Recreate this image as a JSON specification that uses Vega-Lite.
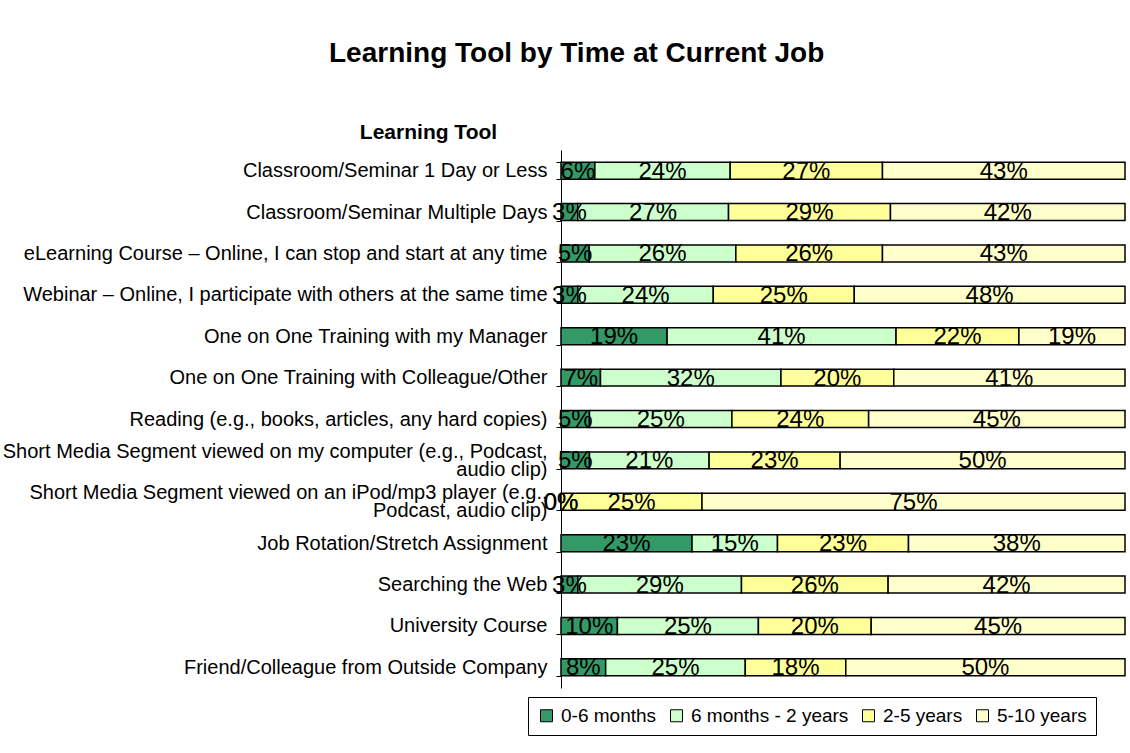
{
  "$schema": "https://vega.github.io/schema/vega-lite/v6.json",
  "width": 564,
  "height": 538,
  "autosize": {"type": "none"},
  "padding": {"left": 561, "top": 150, "right": 5, "bottom": 65},
  "background": "white",
  "config": {"font": "Liberation Sans", "view": {"stroke": null}},
  "title": {
    "text": "Learning Tool by Time at Current Job",
    "anchor": "start",
    "frame": "group",
    "dx": -232,
    "dy": 7,
    "fontSize": 28,
    "fontWeight": "bold",
    "color": "black",
    "font": "Liberation Sans",
    "offset": 60
  },
  "data": {
    "values": [
      {"tool": "Classroom/Seminar 1 Day or Less", "period": "0-6 months", "k": 0, "pct": 0.06},
      {"tool": "Classroom/Seminar 1 Day or Less", "period": "6 months - 2 years", "k": 1, "pct": 0.24},
      {"tool": "Classroom/Seminar 1 Day or Less", "period": "2-5 years", "k": 2, "pct": 0.27},
      {"tool": "Classroom/Seminar 1 Day or Less", "period": "5-10 years", "k": 3, "pct": 0.43},
      {"tool": "Classroom/Seminar Multiple Days", "period": "0-6 months", "k": 0, "pct": 0.03},
      {"tool": "Classroom/Seminar Multiple Days", "period": "6 months - 2 years", "k": 1, "pct": 0.27},
      {"tool": "Classroom/Seminar Multiple Days", "period": "2-5 years", "k": 2, "pct": 0.29},
      {"tool": "Classroom/Seminar Multiple Days", "period": "5-10 years", "k": 3, "pct": 0.42},
      {"tool": "eLearning Course – Online, I can stop and start at any time", "period": "0-6 months", "k": 0, "pct": 0.05},
      {"tool": "eLearning Course – Online, I can stop and start at any time", "period": "6 months - 2 years", "k": 1, "pct": 0.26},
      {"tool": "eLearning Course – Online, I can stop and start at any time", "period": "2-5 years", "k": 2, "pct": 0.26},
      {"tool": "eLearning Course – Online, I can stop and start at any time", "period": "5-10 years", "k": 3, "pct": 0.43},
      {"tool": "Webinar – Online, I participate with others at the same time", "period": "0-6 months", "k": 0, "pct": 0.03},
      {"tool": "Webinar – Online, I participate with others at the same time", "period": "6 months - 2 years", "k": 1, "pct": 0.24},
      {"tool": "Webinar – Online, I participate with others at the same time", "period": "2-5 years", "k": 2, "pct": 0.25},
      {"tool": "Webinar – Online, I participate with others at the same time", "period": "5-10 years", "k": 3, "pct": 0.48},
      {"tool": "One on One Training with my Manager", "period": "0-6 months", "k": 0, "pct": 0.19},
      {"tool": "One on One Training with my Manager", "period": "6 months - 2 years", "k": 1, "pct": 0.41},
      {"tool": "One on One Training with my Manager", "period": "2-5 years", "k": 2, "pct": 0.22},
      {"tool": "One on One Training with my Manager", "period": "5-10 years", "k": 3, "pct": 0.19},
      {"tool": "One on One Training with Colleague/Other", "period": "0-6 months", "k": 0, "pct": 0.07},
      {"tool": "One on One Training with Colleague/Other", "period": "6 months - 2 years", "k": 1, "pct": 0.32},
      {"tool": "One on One Training with Colleague/Other", "period": "2-5 years", "k": 2, "pct": 0.20},
      {"tool": "One on One Training with Colleague/Other", "period": "5-10 years", "k": 3, "pct": 0.41},
      {"tool": "Reading (e.g., books, articles, any hard copies)", "period": "0-6 months", "k": 0, "pct": 0.05},
      {"tool": "Reading (e.g., books, articles, any hard copies)", "period": "6 months - 2 years", "k": 1, "pct": 0.25},
      {"tool": "Reading (e.g., books, articles, any hard copies)", "period": "2-5 years", "k": 2, "pct": 0.24},
      {"tool": "Reading (e.g., books, articles, any hard copies)", "period": "5-10 years", "k": 3, "pct": 0.45},
      {"tool": "Short Media Segment viewed on my computer (e.g., Podcast, audio clip)", "period": "0-6 months", "k": 0, "pct": 0.05},
      {"tool": "Short Media Segment viewed on my computer (e.g., Podcast, audio clip)", "period": "6 months - 2 years", "k": 1, "pct": 0.21},
      {"tool": "Short Media Segment viewed on my computer (e.g., Podcast, audio clip)", "period": "2-5 years", "k": 2, "pct": 0.23},
      {"tool": "Short Media Segment viewed on my computer (e.g., Podcast, audio clip)", "period": "5-10 years", "k": 3, "pct": 0.50},
      {"tool": "Short Media Segment viewed on an iPod/mp3 player (e.g., Podcast, audio clip)", "period": "0-6 months", "k": 0, "pct": 0},
      {"tool": "Short Media Segment viewed on an iPod/mp3 player (e.g., Podcast, audio clip)", "period": "6 months - 2 years", "k": 1, "pct": 0},
      {"tool": "Short Media Segment viewed on an iPod/mp3 player (e.g., Podcast, audio clip)", "period": "2-5 years", "k": 2, "pct": 0.25},
      {"tool": "Short Media Segment viewed on an iPod/mp3 player (e.g., Podcast, audio clip)", "period": "5-10 years", "k": 3, "pct": 0.75},
      {"tool": "Job Rotation/Stretch Assignment", "period": "0-6 months", "k": 0, "pct": 0.23},
      {"tool": "Job Rotation/Stretch Assignment", "period": "6 months - 2 years", "k": 1, "pct": 0.15},
      {"tool": "Job Rotation/Stretch Assignment", "period": "2-5 years", "k": 2, "pct": 0.23},
      {"tool": "Job Rotation/Stretch Assignment", "period": "5-10 years", "k": 3, "pct": 0.38},
      {"tool": "Searching the Web", "period": "0-6 months", "k": 0, "pct": 0.03},
      {"tool": "Searching the Web", "period": "6 months - 2 years", "k": 1, "pct": 0.29},
      {"tool": "Searching the Web", "period": "2-5 years", "k": 2, "pct": 0.26},
      {"tool": "Searching the Web", "period": "5-10 years", "k": 3, "pct": 0.42},
      {"tool": "University Course", "period": "0-6 months", "k": 0, "pct": 0.10},
      {"tool": "University Course", "period": "6 months - 2 years", "k": 1, "pct": 0.25},
      {"tool": "University Course", "period": "2-5 years", "k": 2, "pct": 0.20},
      {"tool": "University Course", "period": "5-10 years", "k": 3, "pct": 0.45},
      {"tool": "Friend/Colleague from Outside Company", "period": "0-6 months", "k": 0, "pct": 0.08},
      {"tool": "Friend/Colleague from Outside Company", "period": "6 months - 2 years", "k": 1, "pct": 0.25},
      {"tool": "Friend/Colleague from Outside Company", "period": "2-5 years", "k": 2, "pct": 0.18},
      {"tool": "Friend/Colleague from Outside Company", "period": "5-10 years", "k": 3, "pct": 0.50}
    ]
  },
  "encoding": {
    "y": {
      "field": "tool",
      "type": "nominal",
      "sort": null,
      "scale": {"paddingInner": 0.59, "paddingOuter": 0.295},
      "axis": {
        "title": "Learning Tool",
        "titleAngle": 0,
        "titleAlign": "center",
        "titleBaseline": "alphabetic",
        "titleX": -133,
        "titleY": -12,
        "titleFontSize": 21,
        "titleFontWeight": "bold",
        "titleColor": "black",
        "labelFontSize": 20,
        "labelColor": "black",
        "labelLimit": 700,
        "labelLineHeight": 18,
        "labelPadding": 9,
        "labelOffset": {
          "condition": {"test": "datum.value == 'Short Media Segment viewed on my computer (e.g., Podcast, audio clip)' || datum.value == 'Short Media Segment viewed on an iPod/mp3 player (e.g., Podcast, audio clip)'", "value": -9},
          "value": 0
        },
        "tickSize": 5,
        "tickColor": "black",
        "domainColor": "black",
        "tickBand": "extent",
        "grid": false,
        "labelExpr": "datum.value == 'Short Media Segment viewed on my computer (e.g., Podcast, audio clip)' ? ['Short Media Segment viewed on my computer (e.g., Podcast,', 'audio clip)'] : datum.value == 'Short Media Segment viewed on an iPod/mp3 player (e.g., Podcast, audio clip)' ? ['Short Media Segment viewed on an iPod/mp3 player (e.g.,', 'Podcast, audio clip)'] : datum.label"
      }
    }
  },
  "layer": [
    {
      "mark": {"type": "bar", "stroke": "black", "strokeWidth": 1.5},
      "encoding": {
        "x": {"field": "pct", "type": "quantitative", "stack": "normalize", "axis": null},
        "color": {
          "field": "period",
          "type": "nominal",
          "scale": {
            "domain": ["0-6 months", "6 months - 2 years", "2-5 years", "5-10 years"],
            "range": ["#339966", "#CCFFCC", "#FFFF99", "#FFFFCC"]
          },
          "legend": {
            "title": null,
            "orient": "none",
            "legendX": -33,
            "legendY": 547,
            "direction": "horizontal",
            "columns": 4,
            "strokeColor": "black",
            "padding": 9,
            "symbolType": "square",
            "symbolSize": 144,
            "symbolStrokeColor": "black",
            "symbolStrokeWidth": 1,
            "labelFontSize": 19,
            "labelColor": "black",
            "labelOffset": 5
          }
        },
        "order": {"field": "k", "type": "quantitative"}
      }
    },
    {
      "mark": {"type": "text", "fontSize": 24, "color": "black", "baseline": "middle", "dy": 1},
      "encoding": {
        "x": {"field": "pct", "type": "quantitative", "stack": "normalize", "bandPosition": 0.5},
        "detail": {"field": "period"},
        "order": {"field": "k", "type": "quantitative"},
        "text": {"field": "pct", "type": "quantitative", "format": ".0%"}
      }
    }
  ]
}
